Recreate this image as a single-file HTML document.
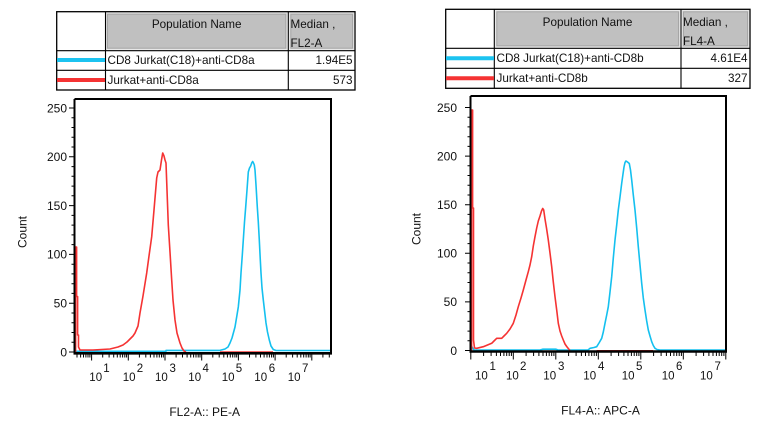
<!DOCTYPE html>
<html><head><meta charset="utf-8"><style>
html,body{margin:0;padding:0;background:#fff;}
svg{display:block;}
text{font-family:"Liberation Sans",Arial,sans-serif;fill:#111;}
</style></head><body>
<svg width="763" height="433" viewBox="0 0 763 433" xmlns="http://www.w3.org/2000/svg">
<rect width="763" height="433" fill="#fff"/>

<!-- ===== LEFT TABLE ===== -->
<g>
<rect x="106" y="12.7" width="181.3" height="37" fill="#dedede"/>
<rect x="107.5" y="14.2" width="178.3" height="34" fill="#c0c0c0" stroke="#a6a6a6" stroke-width="1"/>
<rect x="289.3" y="12.7" width="64.7" height="37" fill="#dedede"/>
<rect x="290.8" y="14.2" width="61.7" height="34" fill="#c0c0c0" stroke="#a6a6a6" stroke-width="1"/>
<rect x="56.7" y="11.7" width="298.3" height="78.3" fill="none" stroke="#000" stroke-width="1.3"/>
<path d="M105.5,11.7V90 M288.3,11.7V90 M56.7,50.7H355 M56.7,70.3H355" stroke="#000" stroke-width="1.1" fill="none"/>
<line x1="57" y1="60" x2="105" y2="60" stroke="#1cc3f0" stroke-width="4"/>
<line x1="57" y1="80" x2="105" y2="80" stroke="#f53333" stroke-width="4"/>
<text x="196.7" y="28" font-size="11.7" text-anchor="middle">Population Name</text>
<text x="290.5" y="28" font-size="11.7">Median ,</text>
<text x="290.5" y="47" font-size="11.7">FL2-A</text>
<text x="107.5" y="64" font-size="11.7">CD8 Jurkat(C18)+anti-CD8a</text>
<text x="352.5" y="64" font-size="11.7" text-anchor="end">1.94E5</text>
<text x="107.5" y="84" font-size="11.7">Jurkat+anti-CD8a</text>
<text x="352.5" y="84" font-size="11.7" text-anchor="end">573</text>
</g>

<!-- ===== RIGHT TABLE ===== -->
<g>
<rect x="495.3" y="10.3" width="184.7" height="37" fill="#dedede"/>
<rect x="496.8" y="11.8" width="181.7" height="34" fill="#c0c0c0" stroke="#a6a6a6" stroke-width="1"/>
<rect x="682" y="10.3" width="67" height="37" fill="#dedede"/>
<rect x="683.5" y="11.8" width="64" height="34" fill="#c0c0c0" stroke="#a6a6a6" stroke-width="1"/>
<rect x="445.7" y="9.3" width="304.3" height="79" fill="none" stroke="#000" stroke-width="1.3"/>
<path d="M494.3,9.3V88.3 M681,9.3V88.3 M445.7,48.3H750 M445.7,68.3H750" stroke="#000" stroke-width="1.1" fill="none"/>
<line x1="446" y1="58.3" x2="494" y2="58.3" stroke="#1cc3f0" stroke-width="4"/>
<line x1="446" y1="78.3" x2="494" y2="78.3" stroke="#f53333" stroke-width="4"/>
<text x="587.5" y="26" font-size="11.7" text-anchor="middle">Population Name</text>
<text x="683" y="26" font-size="11.7">Median ,</text>
<text x="683" y="45" font-size="11.7">FL4-A</text>
<text x="496.5" y="62" font-size="11.7">CD8 Jurkat(C18)+anti-CD8b</text>
<text x="747.5" y="62" font-size="11.7" text-anchor="end">4.61E4</text>
<text x="496.5" y="82" font-size="11.7">Jurkat+anti-CD8b</text>
<text x="747.5" y="82" font-size="11.7" text-anchor="end">327</text>
</g>

<!-- ===== LEFT PLOT ===== -->
<g>
<!-- curves -->
<polyline fill="none" stroke="#14c0ef" stroke-width="1.6" stroke-linejoin="round" points="75,351.3 166,351.3 166,350.4 220,350.4 225,349 228,347 230,343 232,338 235,327 237,315 238.3,307 240,290 241,273 242.3,255 243.3,240 244.5,222 245.7,207 247,190 248.3,172 249.5,168 250.7,166 251.7,163 252.7,161.5 253.5,163 254.3,165 255,170 256,185 257.3,207 258.3,222 259.3,240 260.2,258 261,273 262,288 263.3,300 264.7,312 266,323 267.5,332 269.3,340 271,346 273.3,349.5 276,350.5 331,350.5"/>
<line x1="220" y1="352" x2="273" y2="352" stroke="#f53333" stroke-width="1.6"/>
<polyline fill="none" stroke="#f53333" stroke-width="1.6" stroke-linejoin="round" points="75.6,352 75.6,247 76.6,247 76.6,296.5 77.6,296.5 77.6,335 78.5,335 78.5,347 80,350 93,350 110,349 118,347 123,345 127,342 130,339 133,336 135,333 138,326 140,313 143,296 146.7,273 149,256 151.7,236.7 154,210 156.7,178 158,172 160,170 161.5,160 162.7,153 164,156 165,160 166,163 167,190 168.3,225 170,252 171.7,280 173,300 175,320 177,333 180,343 182,348 184,351 186,352"/>
<!-- frame -->
<path d="M74.5,99H331V353.5 M74.5,99V353.5" fill="none" stroke="#000" stroke-width="2"/>
<line x1="73.5" y1="353.3" x2="332" y2="353.3" stroke="#000" stroke-width="2.6"/>
<!-- y ticks -->
<path stroke="#000" stroke-width="1" fill="none" d="M69,352H74 M71.5,342.2H74 M71.5,332.5H74 M71.5,322.7H74 M71.5,313H74 M69,303.2H74 M71.5,293.4H74 M71.5,283.7H74 M71.5,273.9H74 M71.5,264.2H74 M69,254.4H74 M71.5,244.6H74 M71.5,234.9H74 M71.5,225.1H74 M71.5,215.4H74 M69,205.6H74 M71.5,195.8H74 M71.5,186.1H74 M71.5,176.3H74 M71.5,166.6H74 M69,156.8H74 M71.5,147H74 M71.5,137.3H74 M71.5,127.5H74 M71.5,117.8H74 M69,108H74"/>
<!-- x ticks -->
<path stroke="#000" stroke-width="1" fill="none" d="
M77,354V357.5 M80.6,354V357.5 M83.5,354V357.5 M85.9,354V357.5 M88,354V357.5 M89.9,354V357.5
M91.6,354V360.5 M102.7,354V357.5 M109.1,354V357.5 M113.7,354V357.5 M117.3,354V357.5 M120.2,354V357.5 M122.6,354V357.5 M124.8,354V357.5 M126.6,354V357.5
M128.3,354V360.5 M139.4,354V357.5 M145.8,354V357.5 M150.4,354V357.5 M154,354V357.5 M156.9,354V357.5 M159.3,354V357.5 M161.5,354V357.5 M163.3,354V357.5
M165,354V360.5 M176.1,354V357.5 M182.5,354V357.5 M187.1,354V357.5 M190.7,354V357.5 M193.6,354V357.5 M196,354V357.5 M198.2,354V357.5 M200,354V357.5
M201.7,354V360.5 M212.8,354V357.5 M219.2,354V357.5 M223.8,354V357.5 M227.4,354V357.5 M230.3,354V357.5 M232.7,354V357.5 M234.9,354V357.5 M236.7,354V357.5
M238.4,354V360.5 M249.5,354V357.5 M255.9,354V357.5 M260.5,354V357.5 M264.1,354V357.5 M267,354V357.5 M269.4,354V357.5 M271.6,354V357.5 M273.4,354V357.5
M275.1,354V360.5 M286.2,354V357.5 M292.6,354V357.5 M297.2,354V357.5 M300.8,354V357.5 M303.7,354V357.5 M306.1,354V357.5 M308.3,354V357.5 M310.1,354V357.5
M311.8,354V360.5 M322.9,354V357.5 M329.3,354V357.5"/>
<!-- y labels -->
<g font-size="12" text-anchor="end">
<text x="67" y="356.3">0</text>
<text x="67" y="307.5">50</text>
<text x="67" y="258.7">100</text>
<text x="67" y="209.9">150</text>
<text x="67" y="161.1">200</text>
<text x="67" y="112.3">250</text>
</g>
<!-- x labels -->
<g font-size="11.5">
<text x="89.3" y="381">10</text><text x="103.3" y="372">1</text>
<text x="122.7" y="381">10</text><text x="136.7" y="372">2</text>
<text x="155" y="381">10</text><text x="169.5" y="372">3</text>
<text x="188.3" y="381">10</text><text x="202.5" y="372">4</text>
<text x="221.7" y="381">10</text><text x="235.7" y="372">5</text>
<text x="254.3" y="381">10</text><text x="268.7" y="372">6</text>
<text x="287.7" y="381">10</text><text x="302" y="372">7</text>
</g>
<text transform="translate(26.5,232) rotate(-90)" font-size="12" text-anchor="middle">Count</text>
<text x="204.7" y="416" font-size="12" text-anchor="middle">FL2-A:: PE-A</text>
</g>

<!-- ===== RIGHT PLOT ===== -->
<g>
<polyline fill="none" stroke="#14c0ef" stroke-width="1.6" stroke-linejoin="round" points="470.8,349 472,347 474,350 540,350 543,349.2 556,349.2 558,350 588,350 590,348.3 594,347.5 596.7,346.7 599,343 601.7,338.3 603.3,332 605,323.3 606.7,315 608.3,306.7 610,292 611.7,276.7 613.3,258 615,240 616.7,225 618.3,210 620,197 621.7,183.3 623,174 624,167 625,162.5 626,161 627.5,162 629.3,163.5 630.5,170 631.7,180 633.3,195 635,210 636.7,228 638.3,246.7 640,265 641.7,283.3 643.3,298 645,310 646.7,321 648.3,330 650,336 651.7,341.7 653.3,345.5 655,348.3 657,349.5 660,350 725,350"/>
<line x1="596.7" y1="350.8" x2="653" y2="350.8" stroke="#f53333" stroke-width="1.6"/>
<polyline fill="none" stroke="#f53333" stroke-width="1.6" stroke-linejoin="round" points="471.6,351 471.6,110 472.6,110 472.6,208 473.5,208 473.5,340 474.5,348 476.7,348.3 483.3,346.7 491.7,343.3 494,341 496.7,338.3 501.7,338.3 504,336 506.7,333.3 510,329 513.3,323.3 516,315 518.3,306.7 521,298 523.3,290 526,280 528.3,271.7 530,265 531.7,256.7 533.3,246 535,236.7 536.7,228 538.3,221 540,216 541.5,211 542.7,208.5 543.7,210 545,219 546.5,228 548.3,240 550,253 551.7,266.7 553.3,282 555,296.7 556.7,310 558.3,323.3 560,331 561.7,336 563.3,340 565,344 566.7,346.5 568.3,348.5 570,350.5"/>
<path d="M470.5,96H726V352 M470.5,96V352" fill="none" stroke="#000" stroke-width="2"/>
<line x1="469.5" y1="351.5" x2="727" y2="351.5" stroke="#000" stroke-width="2.6"/>
<path stroke="#000" stroke-width="1" fill="none" d="M465,350.5H470 M467.5,340.8H470 M467.5,331.1H470 M467.5,321.3H470 M467.5,311.6H470 M465,301.9H470 M467.5,292.2H470 M467.5,282.5H470 M467.5,272.7H470 M467.5,263H470 M465,253.3H470 M467.5,243.6H470 M467.5,233.9H470 M467.5,224.1H470 M467.5,214.4H470 M465,204.7H470 M467.5,195H470 M467.5,185.3H470 M467.5,175.5H470 M467.5,165.8H470 M465,156.1H470 M467.5,146.4H470 M467.5,136.7H470 M467.5,126.9H470 M467.5,117.2H470 M465,107.5H470"/>
<path stroke="#000" stroke-width="1" fill="none" d="
M470.8,352.5V359.5 M483.6,352.5V356 M491.1,352.5V356 M496.4,352.5V356 M500.5,352.5V356 M503.9,352.5V356 M506.7,352.5V356 M509.2,352.5V356 M511.4,352.5V356
M513.3,352.5V359.5 M526.1,352.5V356 M533.6,352.5V356 M538.9,352.5V356 M543,352.5V356 M546.4,352.5V356 M549.2,352.5V356 M551.7,352.5V356 M553.9,352.5V356
M555.8,352.5V359.5 M568.6,352.5V356 M576.1,352.5V356 M581.4,352.5V356 M585.5,352.5V356 M588.9,352.5V356 M591.7,352.5V356 M594.2,352.5V356 M596.4,352.5V356
M598.3,352.5V359.5 M611.1,352.5V356 M618.6,352.5V356 M623.9,352.5V356 M628,352.5V356 M631.4,352.5V356 M634.2,352.5V356 M636.7,352.5V356 M638.9,352.5V356
M640.8,352.5V359.5 M653.6,352.5V356 M661.1,352.5V356 M666.4,352.5V356 M670.5,352.5V356 M673.9,352.5V356 M676.7,352.5V356 M679.2,352.5V356 M681.4,352.5V356
M683.3,352.5V359.5 M696.1,352.5V356 M703.6,352.5V356 M708.9,352.5V356 M713,352.5V356 M716.4,352.5V356 M719.2,352.5V356 M721.7,352.5V356 M723.9,352.5V356
M725.8,352.5V359.5"/>
<g font-size="12" text-anchor="end">
<text x="457" y="354.8">0</text>
<text x="457" y="306.2">50</text>
<text x="457" y="257.6">100</text>
<text x="457" y="209">150</text>
<text x="457" y="160.4">200</text>
<text x="457" y="111.8">250</text>
</g>
<g font-size="11.5">
<text x="475" y="379.5">10</text><text x="489.5" y="370">1</text>
<text x="506" y="379.5">10</text><text x="520" y="370">2</text>
<text x="543.3" y="379.5">10</text><text x="558" y="370">3</text>
<text x="583.3" y="379.5">10</text><text x="598" y="370">4</text>
<text x="621.7" y="379.5">10</text><text x="636" y="370">5</text>
<text x="661.7" y="379.5">10</text><text x="676" y="370">6</text>
<text x="700" y="379.5">10</text><text x="714.5" y="370">7</text>
</g>
<text transform="translate(420.5,229) rotate(-90)" font-size="12" text-anchor="middle">Count</text>
<text x="600.5" y="414.5" font-size="12" text-anchor="middle">FL4-A:: APC-A</text>
</g>
</svg>
</body></html>
